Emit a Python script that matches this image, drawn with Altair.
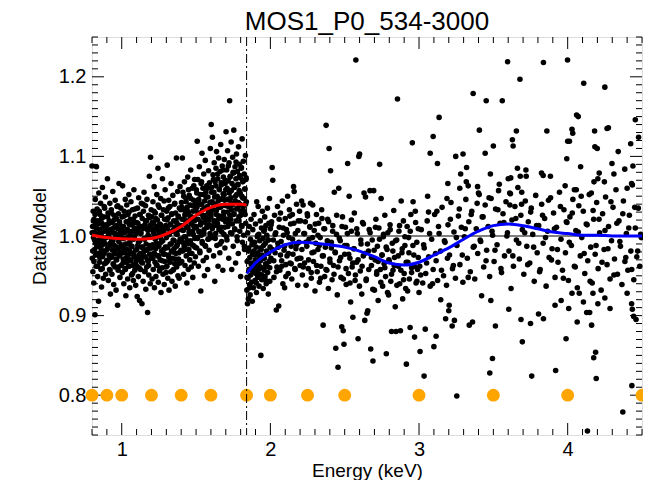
import altair as alt
import pandas as pd

CHART_TITLE = "MOS1_P0_534-3000"
X_TITLE = "Energy (keV)"
Y_TITLE = "Data/Model"

# ---------------- data points (energy in eV, data/model ratio) ----------------
low1_ev = [800, 802, 804, 806, 808, 810, 812, 814, 816, 818, 820, 822, 824, 826, 828, 830, 832, 834, 836, 838,
           840, 842, 844, 846, 848, 850, 852, 854, 856, 858, 860, 862, 864, 866, 868, 870, 872, 874, 876, 878,
           880, 882, 884, 886, 888, 890, 892, 894, 896, 898, 900, 902, 904, 906, 908, 910, 912, 914, 916, 918,
           920, 922, 924, 926, 928, 930, 932, 934, 936, 938, 940, 942, 944, 946, 948, 950, 952, 954, 956, 958,
           960, 962, 964, 966, 968, 970, 972, 974, 976, 978, 980, 982, 984, 986, 988, 990, 992, 994, 996, 998]
low1_ratio = [1.088, 0.972, 1.012, 0.955, 1.031, 0.998, 0.941, 1.021, 1.005, 0.983,
              0.901, 1.046, 0.991, 1.015, 0.962, 1.087, 0.978, 1.034, 1.002, 0.949,
              1.019, 0.987, 0.918, 1.054, 0.995, 1.008, 0.967, 1.027, 0.979, 1.041,
              0.958, 1.003, 0.936, 1.016, 0.989, 1.061, 0.974, 1.011, 0.947, 1.024,
              0.993, 1.037, 0.965, 1.006, 0.981, 1.049, 0.952, 1.014, 0.998, 0.969,
              1.013, 0.968, 1.072, 0.985, 1.029, 0.944, 1.002, 0.976, 1.019, 0.958,
              1.041, 0.991, 0.927, 1.008, 0.973, 1.033, 0.995, 0.952, 1.017, 0.982,
              1.056, 0.965, 1.004, 0.939, 1.026, 0.988, 1.011, 0.961, 1.045, 0.978,
              0.999, 0.932, 1.022, 0.970, 1.037, 0.984, 0.913, 1.009, 0.957, 1.028,
              0.993, 1.066, 0.975, 1.015, 0.948, 1.001, 0.980, 1.035, 0.963, 1.007]

low2_ev = [1000, 1002, 1004, 1006, 1008, 1010, 1012, 1014, 1016, 1018, 1020, 1022, 1024, 1026, 1028, 1030, 1032, 1034, 1036, 1038,
           1040, 1042, 1044, 1046, 1048, 1050, 1052, 1054, 1056, 1058, 1060, 1062, 1064, 1066, 1068, 1070, 1072, 1074, 1076, 1078,
           1080, 1082, 1084, 1086, 1088, 1090, 1092, 1094, 1096, 1098, 1100, 1102, 1104, 1106, 1108, 1110, 1112, 1114, 1116, 1118,
           1120, 1122, 1124, 1126, 1128, 1130, 1132, 1134, 1136, 1138, 1140, 1142, 1144, 1146, 1148, 1150, 1152, 1154, 1156, 1158,
           1160, 1162, 1164, 1166, 1168, 1170, 1172, 1174, 1176, 1178, 1180, 1182, 1184, 1186, 1188, 1190, 1192, 1194, 1196, 1198]
low2_ratio = [0.986, 1.024, 0.954, 1.063, 0.997, 0.971, 1.012, 0.940, 1.031, 0.979,
              1.004, 0.959, 1.046, 0.990, 0.925, 1.018, 0.967, 1.039, 0.983, 1.008,
              0.946, 1.027, 0.976, 0.999, 1.052, 0.962, 1.014, 0.935, 0.993, 1.021,
              0.970, 1.043, 0.987, 0.951, 1.006, 0.978, 1.033, 0.963, 1.016, 0.944,
              0.996, 1.058, 0.974, 1.010, 0.957, 1.025, 0.982, 0.938, 1.003, 0.969,
              1.017, 0.962, 0.924, 1.035, 0.988, 1.006, 0.949, 1.048, 0.976, 1.012,
              0.919, 0.994, 1.027, 0.958, 1.003, 0.971, 1.041, 0.986, 0.915, 1.022,
              0.966, 1.009, 0.943, 1.031, 0.980, 1.055, 0.997, 0.955, 1.014, 0.974,
              1.038, 0.933, 0.990, 1.019, 0.961, 1.046, 0.983, 0.904, 1.007, 0.968,
              1.026, 0.951, 0.999, 1.075, 0.977, 1.013, 0.940, 1.099, 0.985, 1.033]

low3_ev = [1200, 1202, 1204, 1206, 1208, 1210, 1212, 1214, 1216, 1218, 1220, 1222, 1224, 1226, 1228, 1230, 1232, 1234, 1236, 1238,
           1240, 1242, 1244, 1246, 1248, 1250, 1252, 1254, 1256, 1258, 1260, 1262, 1264, 1266, 1268, 1270, 1272, 1274, 1276, 1278,
           1280, 1282, 1284, 1286, 1288, 1290, 1292, 1294, 1296, 1298, 1300, 1302, 1304, 1306, 1308, 1310, 1312, 1314, 1316, 1318,
           1320, 1322, 1324, 1326, 1328, 1330, 1332, 1334, 1336, 1338, 1340, 1342, 1344, 1346, 1348, 1350, 1352, 1354, 1356, 1358,
           1360, 1362, 1364, 1366, 1368, 1370, 1372, 1374, 1376, 1378, 1380, 1382, 1384, 1386, 1388, 1390, 1392, 1394, 1396, 1398]
low3_ratio = [0.972, 1.024, 0.946, 1.008, 0.989, 1.043, 0.958, 1.016, 0.978, 1.062,
              0.935, 1.001, 0.967, 1.029, 0.984, 0.949, 1.012, 0.991, 1.052, 0.963,
              1.020, 0.975, 1.085, 0.942, 1.006, 0.987, 1.036, 0.956, 1.015, 0.970,
              0.998, 1.047, 0.929, 1.026, 0.981, 1.010, 0.960, 1.072, 0.994, 0.952,
              1.033, 0.977, 1.004, 0.939, 1.021, 0.968, 1.058, 0.986, 1.013, 0.954,
              0.985, 1.031, 0.962, 1.089, 1.009, 0.947, 1.023, 0.976, 1.045, 0.932,
              1.002, 0.968, 1.037, 0.990, 1.014, 0.955, 1.066, 0.981, 1.027, 0.943,
              1.006, 0.972, 1.051, 0.995, 0.958, 1.019, 0.984, 1.040, 0.965, 1.011,
              0.937, 1.029, 0.978, 1.003, 1.098, 0.961, 1.016, 0.989, 1.056, 0.950,
              1.025, 0.971, 1.008, 0.947, 1.035, 0.993, 1.062, 0.966, 1.013, 0.982]

low4_ev = [1400, 1402, 1404, 1406, 1408, 1410, 1412, 1414, 1416, 1418, 1420, 1422, 1424, 1426, 1428, 1430, 1432, 1434, 1436, 1438,
           1440, 1442, 1444, 1446, 1448, 1450, 1452, 1454, 1456, 1458, 1460, 1462, 1464, 1466, 1468, 1470, 1472, 1474, 1476, 1478,
           1480, 1482, 1484, 1486, 1488, 1490, 1492, 1494, 1496, 1498, 1500, 1502, 1504, 1506, 1508, 1510, 1512, 1514, 1516, 1518,
           1520, 1522, 1524, 1526, 1528, 1530, 1532, 1534, 1536, 1538, 1540, 1542, 1544, 1546, 1548, 1550, 1552, 1554, 1556, 1558,
           1560, 1562, 1564, 1566, 1568, 1570, 1572, 1574, 1576, 1578, 1580, 1582, 1584, 1586, 1588, 1590, 1592, 1594, 1596, 1598]
low4_ratio = [0.996, 1.042, 0.968, 1.021, 1.098, 0.981, 1.055, 1.007, 0.952, 1.033,
              0.987, 1.068, 1.014, 0.963, 1.026, 0.999, 1.047, 0.975, 1.019, 0.941,
              1.036, 0.990, 1.074, 1.010, 0.958, 1.029, 0.983, 1.051, 1.003, 0.970,
              1.039, 0.994, 1.083, 1.017, 0.961, 1.024, 0.978, 1.060, 1.006, 0.948,
              1.031, 0.988, 1.045, 1.012, 0.966, 1.071, 0.997, 1.022, 0.974, 1.040,
              1.012, 1.058, 0.985, 1.036, 1.119, 0.998, 1.071, 1.021, 0.962, 1.046,
              1.005, 1.087, 1.029, 0.979, 1.052, 1.014, 0.931, 1.066, 1.001, 1.040,
              1.104, 0.991, 1.033, 1.060, 0.969, 1.023, 1.078, 1.008, 0.950, 1.044,
              1.017, 1.095, 0.987, 1.055, 1.026, 0.973, 1.063, 1.011, 1.037, 0.958,
              1.049, 0.996, 1.082, 1.020, 0.982, 1.067, 1.031, 1.003, 1.110, 1.042]

low5_ev = [1600, 1602, 1604, 1606, 1608, 1610, 1612, 1614, 1616, 1618, 1620, 1622, 1624, 1626, 1628, 1630, 1632, 1634, 1636, 1638,
           1640, 1642, 1644, 1646, 1648, 1650, 1652, 1654, 1656, 1658, 1660, 1662, 1664, 1666, 1668, 1670, 1672, 1674, 1676, 1678,
           1680, 1682, 1684, 1686, 1688, 1690, 1692, 1694, 1696, 1698, 1700, 1702, 1704, 1706, 1708, 1710, 1712, 1714, 1716, 1718,
           1720, 1722, 1724, 1726, 1728, 1730, 1732, 1734, 1736, 1738, 1740, 1742, 1744, 1746, 1748, 1750, 1752, 1754, 1756, 1758,
           1760, 1762, 1764, 1766, 1768, 1770, 1772, 1774, 1776, 1778, 1780, 1782, 1784, 1786, 1788, 1790, 1792, 1794, 1796, 1798,
           1800, 1802, 1804, 1806, 1808, 1810, 1812, 1814, 1816, 1818, 1820, 1822, 1824, 1826, 1828, 1830, 1832, 1834, 1836, 1838]
low5_ratio = [1.024, 1.140, 1.061, 0.998, 1.043, 1.124, 1.012, 1.077, 1.033, 0.975,
              1.055, 1.092, 1.019, 0.943, 1.068, 1.040, 1.003, 1.085, 1.027, 1.106,
              0.988, 1.050, 1.016, 1.072, 0.962, 1.036, 1.098, 1.008, 1.059, 1.025,
              0.979, 1.081, 1.046, 1.115, 1.011, 1.064, 0.993, 1.038, 1.088, 1.021,
              0.957, 1.053, 1.074, 1.030, 1.002, 1.096, 1.045, 0.985, 1.066, 1.018,
              1.058, 1.131, 1.021, 1.083, 0.995, 1.046, 1.107, 1.012, 1.069, 1.037,
              0.972, 1.092, 1.054, 1.170, 1.026, 1.075, 1.004, 1.048, 1.118, 1.033,
              0.958, 1.066, 1.015, 1.099, 1.041, 0.987, 1.079, 1.133, 1.028, 1.061,
              1.009, 1.087, 1.044, 0.966, 1.072, 1.019, 1.103, 1.052, 0.999, 1.081,
              1.035, 1.064, 0.978, 1.112, 1.024, 1.057, 1.090, 1.006, 1.040, 1.073,
              0.949, 1.031, 1.085, 1.013, 1.050, 1.122, 0.992, 1.068, 1.036, 1.094,
              1.001, 1.047, 1.078, 0.983, 1.059, 1.027, 1.101, 1.016, 1.071, 1.043]

# interleaved channels of the low-energy band (odd energies)
low_fill_ev = [801, 805, 809, 813, 817, 821, 825, 829, 833, 837, 841, 845, 849, 853, 857, 861, 865, 869, 873, 877,
               881, 885, 889, 893, 897, 901, 905, 909, 913, 917, 921, 925, 929, 933, 937, 941, 945, 949, 953, 957,
               961, 965, 969, 973, 977, 981, 985, 989, 993, 997,
               1001, 1005, 1009, 1013, 1017, 1021, 1025, 1029, 1033, 1037, 1041, 1045, 1049, 1053, 1057, 1061, 1065, 1069, 1073, 1077,
               1081, 1085, 1089, 1093, 1097, 1101, 1105, 1109, 1113, 1117, 1121, 1125, 1129, 1133, 1137, 1141, 1145, 1149, 1153, 1157,
               1161, 1165, 1169, 1173, 1177, 1181, 1185, 1189, 1193, 1197,
               1201, 1205, 1209, 1213, 1217, 1221, 1225, 1229, 1233, 1237, 1241, 1245, 1249, 1253, 1257, 1261, 1265, 1269, 1273, 1277,
               1281, 1285, 1289, 1293, 1297, 1301, 1305, 1309, 1313, 1317, 1321, 1325, 1329, 1333, 1337, 1341, 1345, 1349, 1353, 1357,
               1361, 1365, 1369, 1373, 1377, 1381, 1385, 1389, 1393, 1397,
               1401, 1405, 1409, 1413, 1417, 1421, 1425, 1429, 1433, 1437, 1441, 1445, 1449, 1453, 1457, 1461, 1465, 1469, 1473, 1477,
               1481, 1485, 1489, 1493, 1497, 1501, 1505, 1509, 1513, 1517, 1521, 1525, 1529, 1533, 1537, 1541, 1545, 1549, 1553, 1557,
               1561, 1565, 1569, 1573, 1577, 1581, 1585, 1589, 1593, 1597,
               1601, 1605, 1609, 1613, 1617, 1621, 1625, 1629, 1633, 1637, 1641, 1645, 1649, 1653, 1657, 1661, 1665, 1669, 1673, 1677,
               1681, 1685, 1689, 1693, 1697, 1701, 1705, 1709, 1713, 1717, 1721, 1725, 1729, 1733, 1737, 1741, 1745, 1749, 1753, 1757,
               1761, 1765, 1769, 1773, 1777, 1781, 1785, 1789, 1793, 1797, 1801, 1805, 1809, 1813, 1817, 1821, 1825, 1829, 1833, 1837]
low_fill_ratio = [1.004, 0.981, 1.019, 0.968, 0.995, 1.027, 0.976, 1.010, 0.987, 0.962,
                  1.015, 0.992, 1.031, 0.973, 1.001, 0.984, 1.022, 0.959, 0.997, 1.012,
                  0.978, 1.035, 0.990, 0.966, 1.007, 0.983, 1.024, 0.970, 0.999, 1.016,
                  0.957, 0.988, 1.029, 0.975, 1.009, 0.994, 0.964, 1.020, 0.980, 1.003,
                  0.971, 1.013, 0.986, 1.038, 0.961, 0.998, 1.018, 0.977, 1.005, 0.989,
                  0.979, 1.011, 0.966, 0.997, 1.025, 0.984, 0.958, 1.006, 0.973, 1.018,
                  0.990, 0.962, 1.030, 0.981, 1.002, 0.969, 1.014, 0.987, 0.953, 1.021,
                  0.976, 0.999, 1.034, 0.965, 1.008, 0.983, 0.971, 1.016, 0.992, 0.960,
                  1.027, 0.978, 1.004, 0.967, 1.012, 0.986, 1.040, 0.974, 0.996, 0.956,
                  1.019, 0.982, 1.009, 0.970, 1.001, 0.963, 1.023, 0.988, 0.977, 1.013,
                  0.985, 1.017, 0.972, 1.004, 1.031, 0.978, 0.996, 1.022, 0.964, 1.009,
                  0.988, 1.039, 0.975, 1.001, 0.959, 1.014, 0.992, 1.026, 0.969, 1.006,
                  0.983, 1.044, 0.977, 1.011, 0.961, 0.998, 1.020, 0.986, 1.035, 0.973,
                  1.003, 0.967, 1.015, 0.990, 1.028, 0.980, 0.957, 1.008, 0.994, 1.041,
                  0.971, 1.019, 0.987, 1.002, 0.965, 1.024, 0.979, 1.012, 0.996, 1.033,
                  1.008, 1.036, 0.992, 1.021, 1.050, 0.999, 1.027, 0.983, 1.043, 1.012,
                  0.994, 1.031, 1.058, 1.005, 0.978, 1.024, 1.047, 1.015, 0.989, 1.038,
                  1.002, 1.063, 1.019, 0.986, 1.033, 1.010, 1.054, 0.997, 1.029, 1.045,
                  1.006, 0.981, 1.040, 1.017, 1.068, 0.993, 1.026, 1.052, 1.003, 1.035,
                  0.988, 1.022, 1.049, 1.011, 1.060, 0.996, 1.030, 1.014, 1.042, 1.001,
                  1.028, 1.055, 1.009, 1.041, 1.071, 1.018, 1.049, 0.997, 1.063, 1.032,
                  1.013, 1.078, 1.044, 1.022, 1.058, 0.990, 1.036, 1.067, 1.005, 1.047,
                  1.083, 1.025, 1.052, 1.011, 1.070, 1.038, 0.999, 1.060, 1.030, 1.088,
                  1.016, 1.045, 1.074, 1.021, 1.057, 1.003, 1.039, 1.080, 1.027, 1.062,
                  1.008, 1.050, 1.093, 1.034, 0.994, 1.065, 1.042, 1.019, 1.076, 1.054,
                  1.026, 1.086, 1.012, 1.048, 1.069, 1.031, 0.987, 1.059, 1.040, 1.073]

mid1_ev = [1842, 1844, 1846, 1848, 1850, 1852, 1854, 1856, 1858, 1860, 1862, 1864, 1866, 1868, 1870, 1872, 1874, 1876, 1878, 1880,
           1882, 1884, 1886, 1888, 1890, 1892, 1894, 1896, 1898, 1900, 1902, 1904, 1906, 1908, 1910, 1912, 1914, 1916, 1918, 1920,
           1922, 1924, 1926, 1928, 1930, 1932, 1934, 1936, 1938, 1940, 1942, 1944, 1946, 1948, 1950, 1952, 1954, 1956, 1958, 1960,
           1962, 1964, 1966, 1968, 1970, 1972, 1974, 1976, 1978, 1980, 1982, 1984, 1986, 1988, 1990, 1992, 1994, 1996, 1998, 2000]
mid1_ratio = [0.932, 0.968, 0.915, 1.004, 0.947, 0.921, 0.985, 0.958, 1.012, 0.939,
              0.973, 0.926, 0.996, 0.951, 1.021, 0.964, 0.942, 0.989, 0.918, 0.977,
              1.008, 0.955, 0.935, 0.981, 1.027, 0.961, 0.992, 0.944, 0.970, 1.015,
              0.953, 0.986, 0.929, 1.043, 0.966, 0.999, 0.948, 0.979, 1.037, 0.958,
              1.002, 0.937, 0.974, 0.994, 0.952, 1.019, 0.969, 0.850, 0.983, 1.010,
              0.945, 0.976, 1.031, 0.960, 0.997, 0.934, 0.988, 1.006, 0.957, 0.972,
              1.024, 0.949, 0.991, 0.965, 1.013, 0.940, 0.981, 1.001, 0.962, 1.035,
              0.954, 0.995, 0.927, 0.978, 1.016, 0.968, 1.047, 0.943, 0.986, 1.009]

mid2_ev = [2004, 2008, 2012, 2016, 2020, 2024, 2028, 2032, 2036, 2040, 2044, 2048, 2052, 2056, 2060, 2064, 2068, 2072, 2076, 2080,
           2084, 2088, 2092, 2096, 2100, 2104, 2108, 2112, 2116, 2120, 2124, 2128, 2132, 2136, 2140, 2144, 2148, 2152, 2156, 2160,
           2164, 2168, 2172, 2176, 2180, 2184, 2188, 2192, 2196, 2200]
mid2_ratio = [0.972, 1.018, 1.086, 1.070, 0.995, 0.948, 1.026, 0.979, 1.004, 0.907,
              0.961, 1.037, 0.986, 0.912, 1.011, 0.957, 1.029, 0.993, 0.969, 1.044,
              0.940, 1.001, 0.982, 0.935, 1.022, 0.964, 1.008, 0.975, 1.050, 0.953,
              0.998, 1.033, 0.966, 1.015, 0.987, 0.946, 1.027, 0.977, 1.062, 1.056,
              0.959, 1.003, 0.984, 1.040, 0.971, 0.938, 1.019, 0.992, 1.031, 0.963]

mid3_ev = [2205, 2210, 2215, 2220, 2225, 2230, 2235, 2240, 2245, 2250, 2255, 2260, 2265, 2270, 2275, 2280, 2285, 2290, 2295, 2300,
           2305, 2310, 2315, 2320, 2325, 2330, 2335, 2340, 2345, 2350, 2355, 2360, 2365, 2370, 2375, 2380, 2385, 2390, 2395, 2400,
           2405, 2410, 2415, 2420, 2425, 2430, 2435, 2440, 2445, 2450, 2455, 2460, 2465, 2470, 2475, 2480, 2485, 2490, 2495, 2500,
           2505, 2510, 2515, 2520, 2525, 2530, 2535, 2540, 2545, 2550, 2555, 2560, 2565, 2570, 2575, 2580, 2585, 2590, 2595, 2600,
           2605, 2610, 2615, 2620, 2625, 2630, 2635, 2640, 2645, 2650, 2655, 2660, 2665, 2670, 2675, 2680, 2685, 2690, 2695, 2700,
           2705, 2710, 2715, 2720, 2725, 2730, 2735, 2740, 2745, 2750, 2755, 2760, 2765, 2770, 2775, 2780, 2785, 2790, 2795, 2800,
           2805, 2810, 2815, 2820, 2825, 2830, 2835, 2840, 2845, 2850, 2855, 2860, 2865, 2870, 2875, 2880, 2885, 2890, 2895, 2900,
           2905, 2910, 2915, 2920, 2925, 2930, 2935, 2940, 2945, 2950, 2955, 2960, 2965, 2970, 2975, 2980, 2985, 2990, 2995, 3000]
mid3_ratio = [0.972, 1.044, 0.951, 1.039, 1.003, 0.966, 1.018, 0.938, 0.987, 1.025,
              0.959, 0.996, 1.012, 1.041, 0.947, 0.979, 1.039, 0.968, 1.007, 0.931,
              0.991, 1.027, 0.955, 0.983, 1.016, 0.942, 0.998, 0.962, 1.033, 0.975,
              0.888, 1.009, 0.949, 0.986, 1.139, 0.957, 1.021, 0.934, 1.110, 0.971,
              1.082, 0.992, 0.945, 1.013, 0.963, 1.055, 0.980, 0.859, 1.002, 0.926,
              0.835, 1.060, 0.969, 0.994, 0.948, 0.886, 1.024, 0.881, 0.864, 0.977,
              1.011, 0.939, 0.988, 1.091, 0.953, 1.050, 0.972, 0.917, 1.006, 0.961,
              0.898, 0.984, 1.029, 0.944, 1.221, 0.967, 1.003, 0.871, 1.100, 1.103,
              0.956, 0.990, 0.927, 1.017, 0.975, 1.054, 0.894, 1.049, 0.946, 0.903,
              0.906, 0.981, 1.008, 1.057, 0.858, 0.963, 0.995, 0.843, 1.057, 0.932,
              0.970, 1.021, 0.952, 0.987, 0.919, 1.010, 1.090, 0.958, 1.047, 0.976,
              0.937, 0.999, 0.965, 1.026, 0.949, 0.852, 0.983, 1.004, 0.926, 0.968,
              1.014, 0.943, 0.880, 0.991, 0.957, 1.032, 0.973, 0.911, 0.880, 0.995,
              1.172, 0.962, 1.006, 0.940, 0.881, 1.044, 0.979, 0.921, 1.019, 0.953,
              0.988, 0.934, 0.839, 1.012, 0.967, 0.998, 0.946, 0.885, 1.027, 0.960,
              1.117, 1.043, 0.976, 0.873, 1.031, 0.941, 0.992, 0.958, 1.009, 0.929]

mid_fill_ev = [1843, 1852, 1861, 1870, 1879, 1888, 1897, 1906, 1915, 1924, 1933, 1942, 1951, 1960, 1969, 1978, 1987, 1996,
               2005, 2014, 2023, 2032, 2041, 2050, 2059, 2068, 2077, 2086, 2095, 2104, 2113, 2122, 2131, 2140, 2149, 2158,
               2167, 2176, 2185, 2194, 2203, 2212, 2221, 2230, 2239, 2248, 2257, 2266, 2275, 2284, 2293, 2302, 2311, 2320,
               2329, 2338, 2347, 2356, 2365, 2374, 2383, 2392, 2401, 2410, 2419, 2428, 2437, 2446, 2455, 2464, 2473, 2482,
               2491, 2500, 2509, 2518, 2527, 2536, 2545, 2554, 2563, 2572, 2581, 2590, 2599, 2608, 2617, 2626, 2635, 2644,
               2653, 2662, 2671, 2680, 2689, 2698, 2707, 2716, 2725, 2734, 2743, 2752, 2761, 2770, 2779, 2788, 2797, 2806,
               2815, 2824, 2833, 2842, 2851, 2860, 2869, 2878, 2887, 2896, 2905, 2914, 2923, 2932, 2941, 2950, 2959, 2968,
               2977, 2986, 2995]
mid_fill_ratio = [0.948, 0.981, 0.935, 0.966, 0.992, 0.957, 0.976, 0.941, 1.001, 0.963,
                  0.985, 0.951, 0.972, 1.008, 0.944, 0.979, 0.995, 0.960, 1.014, 0.983,
                  0.969, 1.002, 0.955, 0.991, 1.021, 0.976, 0.962, 1.010, 0.987, 0.949,
                  1.004, 0.978, 1.025, 0.965, 0.996, 1.016, 0.958, 0.989, 1.007, 0.972,
                  1.019, 0.983, 0.961, 1.003, 0.992, 1.028, 0.970, 1.011, 0.954, 0.998,
                  0.980, 1.015, 0.963, 1.001, 0.988, 0.947, 1.022, 0.975, 1.009, 0.958,
                  0.994, 1.018, 0.967, 0.985, 1.006, 0.952, 0.979, 1.026, 0.961, 0.997,
                  0.973, 1.012, 0.946, 0.988, 0.959, 1.003, 0.977, 0.941, 1.020, 0.966,
                  0.984, 0.951, 1.009, 0.970, 0.937, 0.995, 0.962, 1.015, 0.978, 0.944,
                  0.990, 0.958, 1.004, 0.973, 0.933, 0.982, 1.011, 0.955, 0.968, 0.996,
                  0.942, 0.976, 1.002, 0.960, 0.986, 0.929, 0.970, 1.008, 0.952, 0.981,
                  0.963, 0.994, 0.938, 0.975, 1.013, 0.957, 0.984, 0.945, 0.999, 0.967,
                  0.931, 0.979, 1.006, 0.954, 0.988, 0.962, 1.017, 0.943, 0.973]

high_core_ev = [3005, 3015, 3025, 3035, 3045, 3055, 3065, 3075, 3085, 3095, 3105, 3115, 3125, 3135, 3145, 3155, 3165, 3175, 3185, 3195,
                3205, 3215, 3225, 3235, 3245, 3255, 3265, 3275, 3285, 3295, 3305, 3315, 3325, 3335, 3345, 3355, 3365, 3375, 3385, 3395,
                3405, 3415, 3425, 3435, 3445, 3455, 3465, 3475, 3485, 3495, 3505, 3515, 3525, 3535, 3545, 3555, 3565, 3575, 3585, 3595,
                3605, 3615, 3625, 3635, 3645, 3655, 3665, 3675, 3685, 3695, 3705, 3715, 3725, 3735, 3745, 3755, 3765, 3775, 3785, 3795,
                3805, 3815, 3825, 3835, 3845, 3855, 3865, 3875, 3885, 3895, 3905, 3915, 3925, 3935, 3945, 3955, 3965, 3975, 3985, 3995,
                4005, 4015, 4025, 4035, 4045, 4055, 4065, 4075, 4085, 4095, 4105, 4115, 4125, 4135, 4145, 4155, 4165, 4175, 4185, 4195,
                4205, 4215, 4225, 4235, 4245, 4255, 4265, 4275, 4285, 4295, 4305, 4315, 4325, 4335, 4345, 4355, 4365, 4375, 4385, 4395,
                4405, 4415, 4425, 4435, 4445, 4455, 4465, 4475, 4485, 4495]
high_core_ratio = [0.962, 1.008, 0.941, 0.985, 0.953, 1.019, 0.974, 0.937, 0.996, 0.958,
                   1.027, 0.969, 0.944, 1.003, 0.981, 1.036, 0.950, 0.992, 0.938, 1.014,
                   0.976, 1.042, 0.959, 1.005, 0.947, 0.988, 1.025, 0.964, 1.011, 0.942,
                   0.999, 1.046, 0.972, 1.018, 0.955, 1.031, 0.986, 0.946, 1.009, 0.978,
                   1.052, 0.993, 1.024, 0.961, 1.039, 0.982, 1.012, 0.949, 1.047, 1.001,
                   0.968, 1.034, 0.989, 1.057, 1.016, 0.954, 1.028, 0.975, 1.043, 1.004,
                   0.981, 1.053, 1.020, 0.962, 1.037, 0.995, 1.061, 0.971, 1.026, 1.008,
                   0.952, 1.044, 0.987, 1.018, 0.966, 1.035, 1.002, 0.943, 1.051, 0.979,
                   1.013, 0.958, 1.040, 0.991, 1.022, 0.937, 1.006, 0.973, 1.048, 0.984,
                   1.029, 0.948, 1.011, 0.967, 1.055, 0.996, 0.957, 1.033, 0.979, 1.017,
                   0.944, 1.024, 0.988, 1.046, 0.962, 1.007, 0.935, 1.038, 0.975, 0.998,
                   1.031, 0.953, 1.015, 0.969, 1.052, 0.986, 0.941, 1.021, 0.977, 1.042,
                   0.959, 1.004, 0.932, 1.028, 0.983, 1.049, 0.964, 1.012, 0.946, 0.994,
                   1.036, 0.971, 1.058, 0.952, 1.019, 0.987, 0.939, 1.044, 0.968, 1.003,
                   0.957, 1.026, 0.981, 1.064, 0.945, 1.010, 0.974, 1.035, 0.962, 0.998]

high_fill_ev = [3011, 3031, 3051, 3071, 3091, 3111, 3131, 3151, 3171, 3191, 3211, 3231, 3251, 3271, 3291, 3311, 3331, 3351,
                3371, 3391, 3411, 3431, 3451, 3471, 3491, 3511, 3531, 3551, 3571, 3591, 3611, 3631, 3651, 3671, 3691, 3711,
                3731, 3751, 3771, 3791, 3811, 3831, 3851, 3871, 3891, 3911, 3931, 3951, 3971, 3991, 4011, 4031, 4051, 4071,
                4091, 4111, 4131, 4151, 4171, 4191, 4211, 4231, 4251, 4271, 4291, 4311, 4331, 4351, 4371, 4391, 4411, 4431,
                4451, 4471, 4491]
high_fill_ratio = [0.951, 0.989, 0.966, 1.003, 0.940, 0.978, 1.012, 0.957, 0.994, 0.972,
                   1.021, 0.963, 0.998, 1.034, 0.976, 1.009, 0.948, 1.027, 0.987, 1.041,
                   0.995, 1.024, 0.969, 1.048, 1.006, 0.982, 1.033, 0.959, 1.017, 1.000,
                   1.039, 0.975, 1.022, 0.991, 1.055, 1.004, 0.964, 1.030, 0.986, 1.013,
                   0.955, 1.026, 0.998, 1.045, 0.970, 1.009, 0.983, 1.037, 0.947, 1.018,
                   0.992, 1.029, 0.961, 1.005, 1.050, 0.978, 1.014, 0.943, 1.032, 0.988,
                   1.021, 0.967, 1.007, 0.984, 1.043, 0.951, 1.016, 0.993, 1.028, 0.973,
                   1.010, 0.958, 1.036, 0.981, 1.002]

high_up_ev = [3058, 3064, 3075, 3095, 3120, 3124, 3135, 3188, 3194, 3247, 3274, 3280, 3296, 3318, 3320, 3331, 3364, 3394, 3400, 3406,
              3445, 3452, 3480, 3500, 3540, 3560, 3596, 3600, 3610, 3617, 3628, 3633, 3655, 3662, 3679, 3681, 3690, 3719, 3721, 3824,
              3835, 3837, 3860, 3884, 3983, 3994, 3999, 4000, 4012, 4029, 4034, 4045, 4058, 4060, 4071, 4087, 4108, 4159, 4177, 4181,
              4183, 4199, 4203, 4212, 4247, 4250, 4265, 4274, 4298, 4311, 4340, 4384, 4400, 4424, 4430, 4439, 4455, 4477]
high_up_ratio = [1.050, 1.030, 1.104, 1.125, 1.031, 1.091, 1.149, 1.047, 1.066, 1.100,
                 1.060, 1.078, 1.103, 1.068, 1.086, 1.063, 1.179, 1.062, 1.054, 1.133,
                 1.104, 1.170, 1.078, 1.113, 1.065, 1.170, 1.219, 1.072, 1.054, 1.073,
                 1.121, 1.113, 1.132, 1.085, 1.197, 1.075, 1.040, 1.083, 1.075, 1.079,
                 1.076, 1.218, 1.132, 1.075, 1.063, 1.097, 1.221, 1.119, 1.119, 1.134,
                 1.129, 1.058, 1.058, 1.152, 1.150, 1.087, 1.192, 1.054, 1.068, 1.132,
                 1.112, 1.110, 1.072, 1.079, 1.068, 1.187, 1.135, 1.136, 1.091, 1.078,
                 1.106, 1.084, 1.060, 1.116, 1.066, 1.088, 1.146, 1.124]

high_down_ev = [3007, 3034, 3042, 3100, 3115, 3146, 3179, 3200, 3203, 3223, 3238, 3254, 3338, 3360, 3421, 3476, 3483, 3494,
                3514, 3604, 3619, 3686, 3695, 3750, 3758, 3804, 3837, 3915, 3919, 3956, 3989, 4007, 4029, 4064, 4078, 4106,
                4128, 4133, 4148, 4161, 4170, 4175, 4188, 4192, 4203, 4250, 4285, 4371, 4400, 4430, 4432, 4435, 4444, 4460]
high_down_ratio = [0.855, 0.824, 0.883, 0.861, 0.874, 0.920, 0.896, 0.906, 0.913, 0.887, 0.894, 0.799, 0.888, 0.892,
                   0.925, 0.828, 0.919, 0.846, 0.887, 0.908, 0.934, 0.895, 0.867, 0.890, 0.824, 0.902, 0.896, 0.913,
                   0.831, 0.919, 0.871, 0.909, 0.928, 0.892, 0.928, 0.917, 0.904, 0.755, 0.904, 0.888, 0.928, 0.847,
                   0.854, 0.821, 0.915, 0.922, 0.909, 0.779, 0.928, 0.915, 0.812, 0.908, 0.899, 0.895]

# ---------------- model curves ----------------
model_low_ev = [800, 900, 1000, 1100, 1200, 1300, 1400, 1500, 1600, 1700, 1800, 1840]
model_low_ratio = [1.001, 0.998, 0.9965, 0.996, 0.997, 1.0025, 1.012, 1.026, 1.036, 1.040, 1.040, 1.039]
model_high_ev = [1840, 1900, 2000, 2100, 2200, 2300, 2400, 2500, 2600, 2700, 2800, 2900, 3000, 3100,
                 3200, 3300, 3400, 3500, 3600, 3700, 3800, 3900, 4000, 4100, 4200, 4300, 4400, 4500]
model_high_ratio = [0.953, 0.966, 0.980, 0.989, 0.992, 0.991, 0.989, 0.986, 0.981, 0.974, 0.966, 0.9635, 0.967, 0.976,
                    0.985, 0.996, 1.006, 1.013, 1.015, 1.013, 1.009, 1.005, 1.003, 1.001, 1.001, 1.000, 1.000, 1.000]

# orange markers along ratio 0.8
marker_ev = [800, 900, 1000, 1200, 1400, 1600, 1840, 2000, 2250, 2500, 3000, 3500, 4000, 4500]
marker_ratio = [0.8] * len(marker_ev)

boundary_ev = [1840]
unity_ratio = [1.0]

# axis ticks
x_major_ticks = [1.0, 2.0, 3.0, 4.0]
x_minor_ticks = [0.8, 0.9, 1.1, 1.2, 1.3, 1.4, 1.5, 1.6, 1.7, 1.8, 1.9, 2.1, 2.2, 2.3, 2.4, 2.5, 2.6, 2.7, 2.8, 2.9,
                 3.1, 3.2, 3.3, 3.4, 3.5, 3.6, 3.7, 3.8, 3.9, 4.1, 4.2, 4.3, 4.4, 4.5]
y_major_ticks = [0.8, 0.9, 1.0, 1.1, 1.2]
y_minor_ticks = [0.75, 0.76, 0.77, 0.78, 0.79, 0.81, 0.82, 0.83, 0.84, 0.85, 0.86, 0.87, 0.88, 0.89,
                 0.91, 0.92, 0.93, 0.94, 0.95, 0.96, 0.97, 0.98, 0.99, 1.01, 1.02, 1.03, 1.04, 1.05, 1.06,
                 1.07, 1.08, 1.09, 1.11, 1.12, 1.13, 1.14, 1.15, 1.16, 1.17, 1.18, 1.19, 1.21, 1.22, 1.23,
                 1.24, 1.25]

# ---------------- build ----------------
W, H = 550, 398
FONT = "Liberation Sans"


def frame(ev, ratio):
    return pd.DataFrame({"energy": [e / 1000 for e in ev], "ratio": ratio})


points = pd.concat([
    frame(low1_ev, low1_ratio), frame(low2_ev, low2_ratio), frame(low3_ev, low3_ratio),
    frame(low4_ev, low4_ratio), frame(low5_ev, low5_ratio), frame(low_fill_ev, low_fill_ratio),
    frame(mid1_ev, mid1_ratio), frame(mid2_ev, mid2_ratio), frame(mid3_ev, mid3_ratio),
    frame(mid_fill_ev, mid_fill_ratio),
    frame(high_core_ev, high_core_ratio), frame(high_fill_ev, high_fill_ratio),
    frame(high_up_ev, high_up_ratio), frame(high_down_ev, high_down_ratio),
], ignore_index=True)

xscale = alt.Scale(domain=[0.8, 4.5], nice=False, zero=False)
yscale = alt.Scale(domain=[0.75, 1.25], nice=False, zero=False)
xaxis = alt.Axis(values=[1, 2, 3, 4], format="d", ticks=False, domain=False, grid=False,
                 labelFontSize=20, labelPadding=4, titleFontSize=19, titleY=41,
                 titleBaseline="alphabetic",
                 titleFontWeight="normal", labelFont=FONT, titleFont=FONT,
                 labelColor="black", titleColor="black")
yaxis = alt.Axis(values=[0.8, 0.9, 1.0, 1.1, 1.2], format=".1f", ticks=False, domain=False, grid=False,
                 labelFontSize=20, labelPadding=6, titleFontSize=19, titlePadding=9,
                 titleFontWeight="normal", labelFont=FONT, titleFont=FONT,
                 labelColor="black", titleColor="black")
X = alt.X("energy:Q", scale=xscale, axis=xaxis, title=X_TITLE)
Y = alt.Y("ratio:Q", scale=yscale, axis=yaxis, title=Y_TITLE)

layers = []


def xticks(vals, length):
    df = pd.DataFrame({"energy": vals})
    base = alt.Chart(df).mark_rule(color="black", strokeWidth=1)
    return [base.encode(x=X, y=alt.value(H), y2=alt.value(H - length)),
            base.encode(x=X, y=alt.value(0), y2=alt.value(length))]


def yticks(vals, length):
    df = pd.DataFrame({"ratio": vals})
    base = alt.Chart(df).mark_rule(color="black", strokeWidth=1)
    return [base.encode(y=Y, x=alt.value(0), x2=alt.value(length)),
            base.encode(y=Y, x=alt.value(W), x2=alt.value(W - length))]


layers += xticks(x_minor_ticks, 6) + xticks(x_major_ticks, 12)
layers += yticks(y_minor_ticks, 6) + yticks(y_major_ticks, 12)

unity = alt.Chart(pd.DataFrame({"ratio": unity_ratio})).mark_rule(
    color="black", strokeWidth=1).encode(y=Y)
scatter = alt.Chart(points).mark_circle(size=31, color="black", opacity=1).encode(x=X, y=Y)
red = alt.Chart(frame(model_low_ev, model_low_ratio)).mark_line(
    color="#ff0000", strokeWidth=3, interpolate="monotone").encode(x=X, y=Y)
blue = alt.Chart(frame(model_high_ev, model_high_ratio)).mark_line(
    color="#0000ff", strokeWidth=3, interpolate="monotone").encode(x=X, y=Y)
orange = alt.Chart(frame(marker_ev, marker_ratio)).mark_circle(
    size=165, color="#ffa500", opacity=1).encode(x=X, y=Y)
vline = alt.Chart(pd.DataFrame({"energy": [e / 1000 for e in boundary_ev]})).mark_rule(
    color="black", strokeWidth=1, strokeDash=[9, 3, 2, 3]).encode(x=X)

layers += [unity, scatter, red, blue, orange, vline]

chart = alt.layer(*layers).properties(
    width=W, height=H,
    title=alt.TitleParams(CHART_TITLE, font=FONT, fontSize=26, fontWeight="normal",
                          color="black", anchor="middle", offset=2),
    autosize=alt.AutoSizeParams(type="none"),
    padding={"left": 84, "right": 1, "top": 29, "bottom": 45},
).configure_view(stroke="black", strokeWidth=1).configure(background="white")

chart.save("out.html", embed_options={"renderer": "svg", "actions": False})
